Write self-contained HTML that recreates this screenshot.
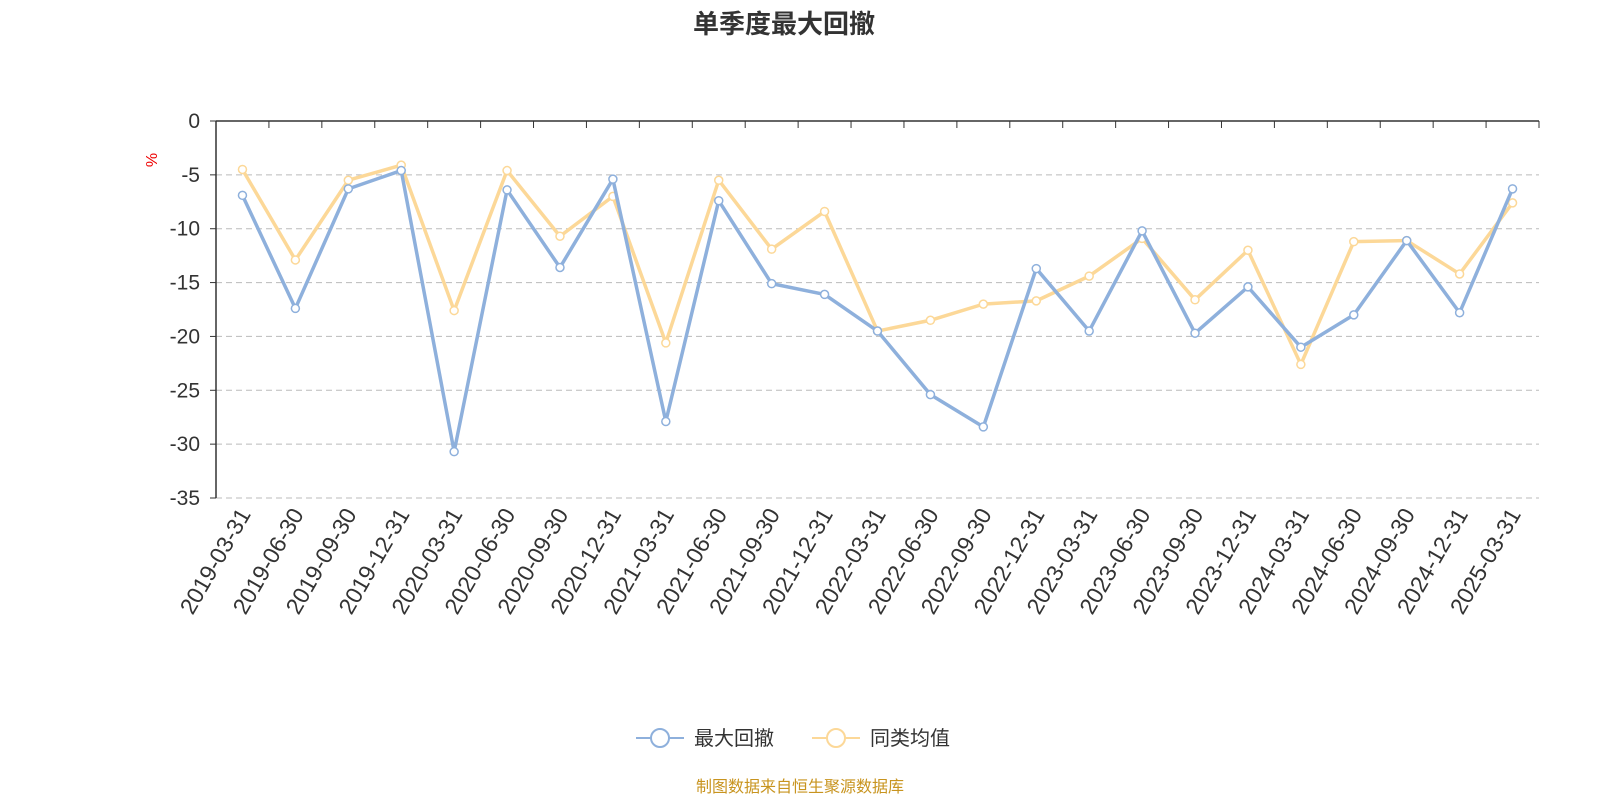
<!DOCTYPE html>
<html><head><meta charset="utf-8"><style>
body{margin:0;background:#fff;}
svg text{font-family:"Liberation Sans","Noto Sans CJK SC",sans-serif;}
</style></head><body>
<svg id="chart" width="1600" height="800" xmlns="http://www.w3.org/2000/svg">
<text x="784" y="33" text-anchor="middle" font-size="26" font-weight="bold" fill="#333">单季度最大回撤</text>
<text x="0" y="0" transform="translate(157,160) rotate(-90)" text-anchor="middle" font-size="16" fill="#e00">%</text>
<g id="grid"></g><g id="axes"></g><g id="series"></g>
<g>
<line x1="636" y1="738" x2="684" y2="738" stroke="#8eb0dc" stroke-width="2"/>
<circle cx="660" cy="738" r="9" fill="#fff" stroke="#8eb0dc" stroke-width="2"/>
<text x="694" y="745" font-size="20" fill="#333">最大回撤</text>
<line x1="812" y1="738" x2="860" y2="738" stroke="#fcd898" stroke-width="2"/>
<circle cx="836" cy="738" r="9" fill="#fff" stroke="#fcd898" stroke-width="2"/>
<text x="870" y="745" font-size="20" fill="#333">同类均值</text>
</g>
<text x="800" y="792" text-anchor="middle" font-size="16" fill="#c8941f">制图数据来自恒生聚源数据库</text>
</svg>
<script>
const categories=["2019-03-31","2019-06-30","2019-09-30","2019-12-31","2020-03-31","2020-06-30","2020-09-30","2020-12-31","2021-03-31","2021-06-30","2021-09-30","2021-12-31","2022-03-31","2022-06-30","2022-09-30","2022-12-31","2023-03-31","2023-06-30","2023-09-30","2023-12-31","2024-03-31","2024-06-30","2024-09-30","2024-12-31","2025-03-31"];
const maxDrawdown=[-6.9,-17.4,-6.3,-4.6,-30.7,-6.4,-13.6,-5.4,-27.9,-7.4,-15.1,-16.1,-19.5,-25.4,-28.4,-13.7,-19.5,-10.2,-19.7,-15.4,-21.0,-18.0,-11.1,-17.8,-6.3];
const peerAverage=[-4.5,-12.9,-5.5,-4.1,-17.6,-4.6,-10.7,-7.0,-20.6,-5.5,-11.9,-8.4,-19.5,-18.5,-17.0,-16.7,-14.4,-10.9,-16.6,-12.0,-22.6,-11.2,-11.1,-14.2,-7.6];
const yTicks=[0,-5,-10,-15,-20,-25,-30,-35];
const NS="http://www.w3.org/2000/svg";
const L=216,R=1539,T=121,B=498,yMin=-35,yMax=0;
const bw=(R-L)/categories.length;
const x=i=>L+bw*(i+0.5);
const y=v=>T+(yMax-v)/(yMax-yMin)*(B-T);
function mk(tag,attrs,parent){const e=document.createElementNS(NS,tag);for(const k in attrs)e.setAttribute(k,attrs[k]);parent.appendChild(e);return e;}
const grid=document.getElementById('grid'),axes=document.getElementById('axes'),series=document.getElementById('series');
yTicks.forEach(t=>{
  if(t!==0){const g=mk('line',{x1:L,x2:R,y1:y(t),y2:y(t),stroke:'#bbb','stroke-dasharray':'6,4'},grid);
  
  }
  const tl=mk('line',{x1:L-6,x2:L,y1:y(t),y2:y(t),stroke:'#333'},axes);
  
  
  const tx=mk('text',{x:L-16,y:y(t)+7,'text-anchor':'end','font-size':'21',fill:'#333'},axes);
  tx.textContent=t;
  
  
});
const ya=mk('line',{x1:L,x2:L,y1:T,y2:B,stroke:'#333','stroke-width':1.5},axes);


const xa=mk('line',{x1:L,x2:R,y1:T,y2:T,stroke:'#333','stroke-width':1.5},axes);


for(let i=0;i<=categories.length;i++){
  const t=mk('line',{x1:L+bw*i,x2:L+bw*i,y1:T,y2:T+7,stroke:'#333'},axes);
  
  
}
categories.forEach((c,i)=>{
  const tx=mk('text',{x:0,y:0,transform:`translate(${x(i)+9},${B+16}) rotate(-60)`,'text-anchor':'end','font-size':'23',fill:'#333'},axes);
  tx.textContent=c;
  
  
});
function draw(data,color,name){
  const p=mk('polyline',{points:data.map((v,i)=>x(i)+','+y(v)).join(' '),fill:'none',stroke:color,'stroke-width':3.5,'stroke-linejoin':'round'},series);
  
  
  data.forEach((v,i)=>{
    const c=mk('circle',{cx:x(i),cy:y(v),r:4,fill:'#fff',stroke:color,'stroke-width':1.5},series);
    
    
  });
}
draw(peerAverage,'#fcd898','peer-average');
draw(maxDrawdown,'#8eb0dc','max-drawdown');
</script>
</body></html>
